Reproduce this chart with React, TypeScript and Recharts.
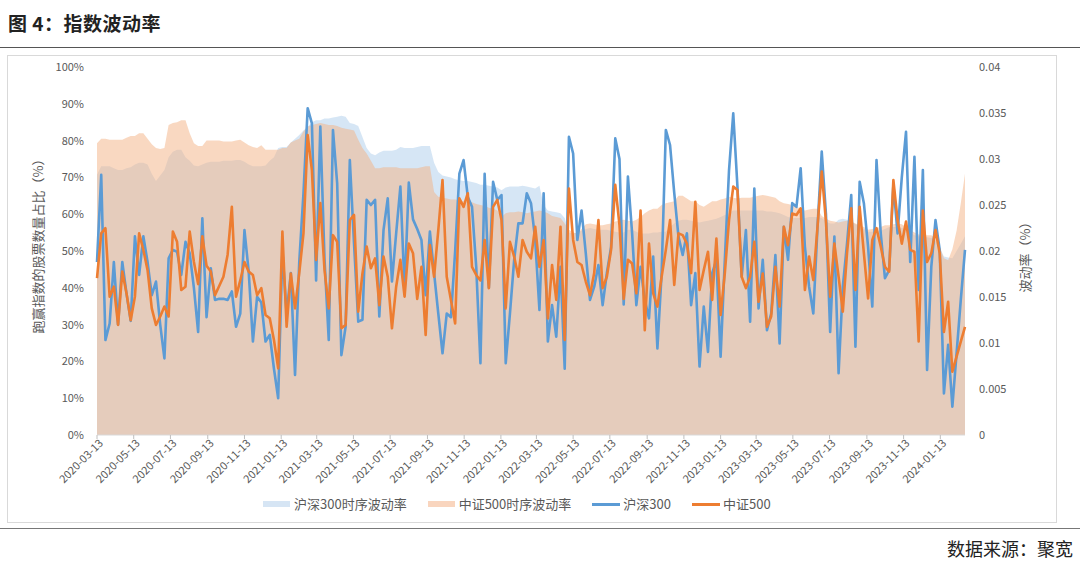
import { ComposedChart, Area, Line, XAxis, YAxis } from 'recharts';

const FONT = '"Noto Sans CJK SC", "Noto Sans", sans-serif';

// weekly observations starting from this date
const startDate = '2020-03-13';

const xTickLabels = [
  '2020-03-13', '2020-05-13', '2020-07-13', '2020-09-13', '2020-11-13', '2021-01-13',
  '2021-03-13', '2021-05-13', '2021-07-13', '2021-09-13', '2021-11-13', '2022-01-13',
  '2022-03-13', '2022-05-13', '2022-07-13', '2022-09-13', '2022-11-13', '2023-01-13',
  '2023-03-13', '2023-05-13', '2023-07-13', '2023-09-13', '2023-11-13', '2024-01-13',
];

const leftTicks = [0, 10, 20, 30, 40, 50, 60, 70, 80, 90, 100];
const rightTicks = [0, 0.005, 0.01, 0.015, 0.02, 0.025, 0.03, 0.035, 0.04];

// 跑赢指数的股票数量占比 (%)
const hs300 = [
  47, 70.7, 25.8, 30.3, 47, 30, 47, 38.5, 31, 54,
  43.5, 54, 47, 38, 41.7, 30, 20.8, 48, 50.3, 49.8,
  43.5, 52.5, 49.4, 40, 28, 58.9, 32, 45.3, 36.7, 37,
  37, 36.7, 39, 29.4, 33, 55.7, 44.4, 25.4, 37.6, 36,
  25.4, 27.2, 18, 10, 50, 33, 44, 16.3, 47, 65.7,
  88.8, 84.7, 42, 83.8, 47.6, 25.8, 82.9, 68.4, 21.7, 29.4,
  74.7, 52, 30.8, 31.3, 63.9, 62.5, 63.9, 32.2, 55.7, 64.3,
  41.7, 54.8, 67.5, 39.4, 68.6, 58.6, 56, 53, 38, 55.3,
  44, 33, 22.2, 33, 32, 50, 71, 74.7, 64.7, 62,
  45.7, 19.5, 71, 40, 68.8, 63.9, 65.2, 19.5, 33, 47.5,
  57.5, 57.5, 65.7, 63, 53, 34, 65.7, 25.4, 35.3, 26.7,
  45.7, 18, 81, 76.5, 53, 61, 49.4, 36.7, 40.3, 46.2,
  35.3, 44, 51, 80.6, 75, 35.5, 70.2, 54.8, 35.3, 45.7,
  36.7, 31.7, 48.5, 23.5, 44, 82.9, 78.8, 65.7, 53.9, 48.9,
  54.8, 35.3, 44, 18.6, 34.9, 22.6, 44, 47.6, 21.3, 47.6,
  72, 87.4, 67.4, 43, 55.7, 30.8, 67, 34.4, 47.6, 28.5,
  33, 48.9, 24.9, 56.6, 47.6, 63, 62, 72.5, 51.2, 40.3,
  33, 56.6, 77, 60, 28, 53.9, 16.8, 40.3, 52, 65.2,
  24, 68.8, 63, 51.2, 34.9, 74.7, 54.8, 42.6, 44.8, 68,
  54.8, 70, 82.4, 47, 75.6, 39.4, 72, 17.7, 45.7, 58.4,
  50.3, 11.3, 24.5, 7.7, 22.2, 36.7, 50.3,
];

const zz500 = [
  42.6, 54.8, 56.2, 37.6, 40.3, 29.9, 44.4, 38.5, 31.2, 37.6,
  54.8, 50.3, 44.8, 34.4, 29.9, 32.2, 34.9, 32.2, 55.3, 52.5,
  39.4, 40.3, 55.3, 47, 41, 54, 46, 44.4, 38, 40.5,
  43, 49, 62, 37.6, 42, 47, 44.4, 43.5, 38, 39.9,
  32.6, 31.7, 25.8, 18.1, 55.3, 29.4, 43.9, 34.4, 44, 54.8,
  81.5, 72, 47.6, 63, 44.8, 34.4, 54.3, 52.5, 29, 29.9,
  58.4, 59.8, 33.5, 43.9, 51.2, 45.3, 48, 35.3, 48.5, 43,
  29, 40.3, 47.6, 37.6, 52, 49.4, 37, 45.7, 27.2, 51.6,
  43, 55.7, 69.3, 43, 36.7, 30.3, 64.3, 62, 65.7, 45.7,
  43.5, 42, 53, 39.9, 62, 63.9, 58.4, 34.4, 52.5, 48.5,
  43, 53, 49.8, 48, 56.6, 45.7, 53, 31.7, 46.2, 36.7,
  56.6, 25.8, 67, 53, 47, 46.2, 41.7, 38, 44, 58.4,
  39.9, 43, 50.3, 68, 57, 37, 47.6, 46.6, 38.5, 61,
  28.5, 52, 38.5, 34.9, 43, 50.3, 58.4, 40.8, 54.8, 54.3,
  52, 44, 63.4, 39.4, 44.8, 49.8, 36.7, 53.4, 32.6, 44,
  58.4, 67.5, 66.6, 43, 39.9, 43, 52.5, 36.2, 43.9, 29.4,
  32.2, 45.7, 34.9, 56.6, 51.6, 60.2, 59.8, 61.6, 39.4, 48.5,
  42.1, 56.6, 71.6, 58, 37.6, 52, 43, 33.5, 49.4, 61.6,
  39.4, 62, 49.4, 37.1, 53, 56.2, 51.2, 45.7, 44.4, 69.3,
  58.4, 52, 58, 50.3, 49.8, 25.4, 61, 47, 49.4, 55.7,
  49.4, 28, 36.2, 17.2, 21.3, 25.4, 29.4,
];

// 时序波动率 (right axis)
const hs300Vol = [
  0.0283, 0.0292, 0.0292, 0.0292, 0.0290, 0.0288, 0.0288, 0.0290, 0.0291, 0.0294,
  0.0296, 0.0296, 0.0294, 0.0284, 0.0276, 0.0282, 0.0288, 0.0302, 0.0308, 0.0310,
  0.0310, 0.0302, 0.0298, 0.0293, 0.0292, 0.0294, 0.0296, 0.0297, 0.0297, 0.0297,
  0.0298, 0.0298, 0.0298, 0.0299, 0.0299, 0.0297, 0.0294, 0.0292, 0.0292, 0.0292,
  0.0293, 0.0298, 0.0302, 0.0312, 0.0313, 0.0313, 0.0318, 0.0322, 0.0326, 0.0331,
  0.0335, 0.0340, 0.0342, 0.0342, 0.0344, 0.0344, 0.0345, 0.0346, 0.0347, 0.0346,
  0.0339, 0.0338, 0.0336, 0.0324, 0.0312, 0.0306, 0.0304, 0.0307, 0.0309, 0.0309,
  0.0309, 0.0310, 0.0313, 0.0312, 0.0312, 0.0312, 0.0313, 0.0314, 0.0314, 0.0314,
  0.0296, 0.0286, 0.0282, 0.0281, 0.0280, 0.0278, 0.0277, 0.0276, 0.0276, 0.0275,
  0.0274, 0.0272, 0.0272, 0.0271, 0.0270, 0.0269, 0.0266, 0.0269, 0.0270, 0.0270,
  0.0270, 0.0271, 0.0270, 0.0269, 0.0268, 0.0271, 0.0250, 0.0244, 0.0243, 0.0242,
  0.0241, 0.0236, 0.0220, 0.0219, 0.0220, 0.0222, 0.0224, 0.0225, 0.0224, 0.0223,
  0.0223, 0.0223, 0.0222, 0.0221, 0.0220, 0.0220, 0.0223, 0.0223, 0.0221, 0.0219,
  0.0219, 0.0219, 0.0220, 0.0220, 0.0221, 0.0221, 0.0226, 0.0230, 0.0233, 0.0234,
  0.0234, 0.0233, 0.0232, 0.0231, 0.0232, 0.0233, 0.0234, 0.0235, 0.0237, 0.0239,
  0.0241, 0.0244, 0.0244, 0.0244, 0.0244, 0.0244, 0.0244, 0.0244, 0.0244, 0.0243,
  0.0243, 0.0242, 0.0241, 0.0239, 0.0237, 0.0236, 0.0236, 0.0236, 0.0236, 0.0237,
  0.0237, 0.0237, 0.0236, 0.0232, 0.0230, 0.0230, 0.0234, 0.0235, 0.0234, 0.0232,
  0.0229, 0.0226, 0.0224, 0.0221, 0.0221, 0.0222, 0.0222, 0.0224, 0.0226, 0.0226,
  0.0226, 0.0225, 0.0224, 0.0220, 0.0217, 0.0216, 0.0216, 0.0215, 0.0214, 0.0212,
  0.0204, 0.0194, 0.0193, 0.0192, 0.0200, 0.0208, 0.0216,
];

const zz500Vol = [
  0.0317, 0.0322, 0.0322, 0.0321, 0.0321, 0.0321, 0.0321, 0.0323, 0.0325, 0.0325,
  0.0328, 0.0328, 0.0322, 0.0316, 0.0312, 0.0311, 0.0312, 0.0337, 0.0339, 0.0340,
  0.0342, 0.0342, 0.0328, 0.0317, 0.0314, 0.0314, 0.0320, 0.0320, 0.0320, 0.0320,
  0.0319, 0.0319, 0.0319, 0.0320, 0.0321, 0.0318, 0.0315, 0.0313, 0.0312, 0.0315,
  0.0310, 0.0310, 0.0310, 0.0310, 0.0312, 0.0312, 0.0318, 0.0320, 0.0322, 0.0330,
  0.0335, 0.0337, 0.0338, 0.0339, 0.0338, 0.0337, 0.0337, 0.0336, 0.0334, 0.0333,
  0.0332, 0.0331, 0.0321, 0.0312, 0.0306, 0.0298, 0.0290, 0.0290, 0.0291, 0.0291,
  0.0291, 0.0291, 0.0290, 0.0290, 0.0290, 0.0290, 0.0290, 0.0291, 0.0292, 0.0292,
  0.0264, 0.0259, 0.0258, 0.0257, 0.0256, 0.0256, 0.0255, 0.0254, 0.0254, 0.0253,
  0.0251, 0.0250, 0.0249, 0.0247, 0.0246, 0.0244, 0.0237, 0.0241, 0.0242, 0.0242,
  0.0243, 0.0242, 0.0241, 0.0242, 0.0243, 0.0244, 0.0243, 0.0241, 0.0238, 0.0237,
  0.0236, 0.0230, 0.0223, 0.0220, 0.0219, 0.0224, 0.0229, 0.0230, 0.0229, 0.0228,
  0.0228, 0.0229, 0.0230, 0.0232, 0.0233, 0.0234, 0.0233, 0.0232, 0.0234, 0.0237,
  0.0241, 0.0244, 0.0246, 0.0246, 0.0250, 0.0252, 0.0253, 0.0254, 0.0260, 0.0260,
  0.0257, 0.0254, 0.0254, 0.0250, 0.0248, 0.0251, 0.0254, 0.0254, 0.0256, 0.0257,
  0.0259, 0.0258, 0.0257, 0.0258, 0.0258, 0.0258, 0.0259, 0.0260, 0.0261, 0.0260,
  0.0259, 0.0258, 0.0254, 0.0252, 0.0251, 0.0250, 0.0248, 0.0246, 0.0244, 0.0245,
  0.0246, 0.0246, 0.0238, 0.0235, 0.0233, 0.0232, 0.0231, 0.0232, 0.0233, 0.0232,
  0.0230, 0.0228, 0.0226, 0.0223, 0.0224, 0.0225, 0.0226, 0.0228, 0.0228, 0.0229,
  0.0230, 0.0229, 0.0226, 0.0223, 0.0220, 0.0218, 0.0217, 0.0217, 0.0217, 0.0214,
  0.0204, 0.0192, 0.0190, 0.0202, 0.0222, 0.0252, 0.0284,
];

const DAY = 86400000;
const t0 = Date.parse(startDate);
const data = hs300.map((v, i) => ({
  t: t0 + i * 7 * DAY,
  hs300: v,
  zz500: zz500[i],
  hs300Vol: hs300Vol[i],
  zz500Vol: zz500Vol[i],
}));
const xTicks = xTickLabels.map((s) => Date.parse(s));

const fmtDate = (v: number) => new Date(v).toISOString().slice(0, 10);

const DateTick = (props: any) => {
  const { x, y, payload } = props;
  return (
    <g transform={`translate(${x + 4},${y + 2})`}>
      <text x={0} y={0} dy={4} textAnchor="end" transform="rotate(-45)" fontSize={11} fill="#595959" fontFamily={FONT}>
        {fmtDate(payload.value)}
      </text>
    </g>
  );
};

const legendItems = [
  { label: '沪深300时序波动率', kind: 'area', color: '#D6E5F4' },
  { label: '中证500时序波动率', kind: 'area', color: '#F9D5BE' },
  { label: '沪深300', kind: 'line', color: '#5B9BD5' },
  { label: '中证500', kind: 'line', color: '#ED7D31' },
];

export default function App() {
  return (
    <div style={{ position: 'absolute', left: 0, top: 0, width: 1080, height: 561, background: '#fff', fontFamily: FONT, overflow: 'hidden' }}>
      {/* title */}
      <div style={{ position: 'absolute', left: 8, top: 9, fontSize: 19, fontWeight: 700, color: '#222', letterSpacing: 0.5 }}>
        图 4：指数波动率
      </div>
      <div style={{ position: 'absolute', left: 0, top: 47, width: 1080, height: 1, background: '#555' }} />

      {/* chart frame */}
      <div style={{ position: 'absolute', left: 7, top: 55, width: 1050, height: 468, border: '1px solid #D9D9D9', boxSizing: 'border-box' }} />

      <div style={{ position: 'absolute', left: 0, top: 0 }}>
        <ComposedChart width={1080} height={561} data={data} margin={{ top: 67, right: 55, bottom: 66, left: 37 }}>
          <XAxis
            dataKey="t"
            type="number"
            scale="linear"
            domain={[data[0].t, data[data.length - 1].t]}
            ticks={xTicks}
            interval={0}
            tick={<DateTick />}
            tickSize={4}
            tickMargin={0}
            tickLine={{ stroke: '#BFBFBF' }}
            axisLine={{ stroke: '#D9D9D9' }}
            height={60}
          />
          <YAxis
            yAxisId="left"
            domain={[0, 100]}
            ticks={leftTicks}
            tickFormatter={(v) => `${v}%`}
            axisLine={false}
            tickLine={false}
            tickSize={0}
            tickMargin={13}
            width={60}
            tick={{ fontSize: 11, fill: '#595959', fontFamily: FONT }}
          />
          <YAxis
            yAxisId="right"
            orientation="right"
            domain={[0, 0.04]}
            ticks={rightTicks}
            tickFormatter={(v) => String(v)}
            axisLine={false}
            tickLine={false}
            tickSize={0}
            tickMargin={14}
            width={60}
            tick={{ fontSize: 11, fill: '#595959', fontFamily: FONT, textAnchor: 'start' }}
          />
          <Area yAxisId="right" type="linear" dataKey="hs300Vol" name="沪深300时序波动率" stroke="none" fill="#9DC3E6" fillOpacity={0.42} isAnimationActive={false} />
          <Area yAxisId="right" type="linear" dataKey="zz500Vol" name="中证500时序波动率" stroke="none" fill="#F4B183" fillOpacity={0.5} isAnimationActive={false} />
          <Line yAxisId="left" type="linear" dataKey="hs300" name="沪深300" stroke="#5B9BD5" strokeWidth={2.6} dot={false} strokeLinejoin="round" isAnimationActive={false} />
          <Line yAxisId="left" type="linear" dataKey="zz500" name="中证500" stroke="#ED7D31" strokeWidth={2.6} dot={false} strokeLinejoin="round" isAnimationActive={false} />
        </ComposedChart>
      </div>

      {/* axis titles */}
      <div style={{ position: 'absolute', left: 37, top: 243, transform: 'translate(-50%, -50%) rotate(-90deg)', whiteSpace: 'nowrap', fontSize: 13, color: '#595959' }}>
        跑赢指数的股票数量占比（%）
      </div>
      <div style={{ position: 'absolute', left: 1024, top: 254, transform: 'translate(-50%, -50%) rotate(-90deg)', whiteSpace: 'nowrap', fontSize: 13, color: '#595959' }}>
        波动率（%）
      </div>

      {/* legend */}
      <div style={{ position: 'absolute', left: 263, top: 495, display: 'flex', alignItems: 'center', fontSize: 13, color: '#595959', lineHeight: '18px' }}>
        {legendItems.map((it, i) => (
          <div key={it.label} style={{ display: 'flex', alignItems: 'center', marginRight: i < 3 ? 21 : 0 }}>
            {it.kind === 'area' ? (
              <div style={{ width: 27, height: 6, background: it.color, marginRight: 4 }} />
            ) : (
              <div style={{ width: 28, height: 3, background: it.color, marginRight: 3 }} />
            )}
            <span>{it.label}</span>
          </div>
        ))}
      </div>

      <div style={{ position: 'absolute', left: 0, top: 528, width: 1080, height: 1, background: '#777' }} />
      {/* source */}
      <div style={{ position: 'absolute', right: 7, top: 535, fontSize: 18, color: '#222' }}>数据来源：聚宽</div>
    </div>
  );
}
